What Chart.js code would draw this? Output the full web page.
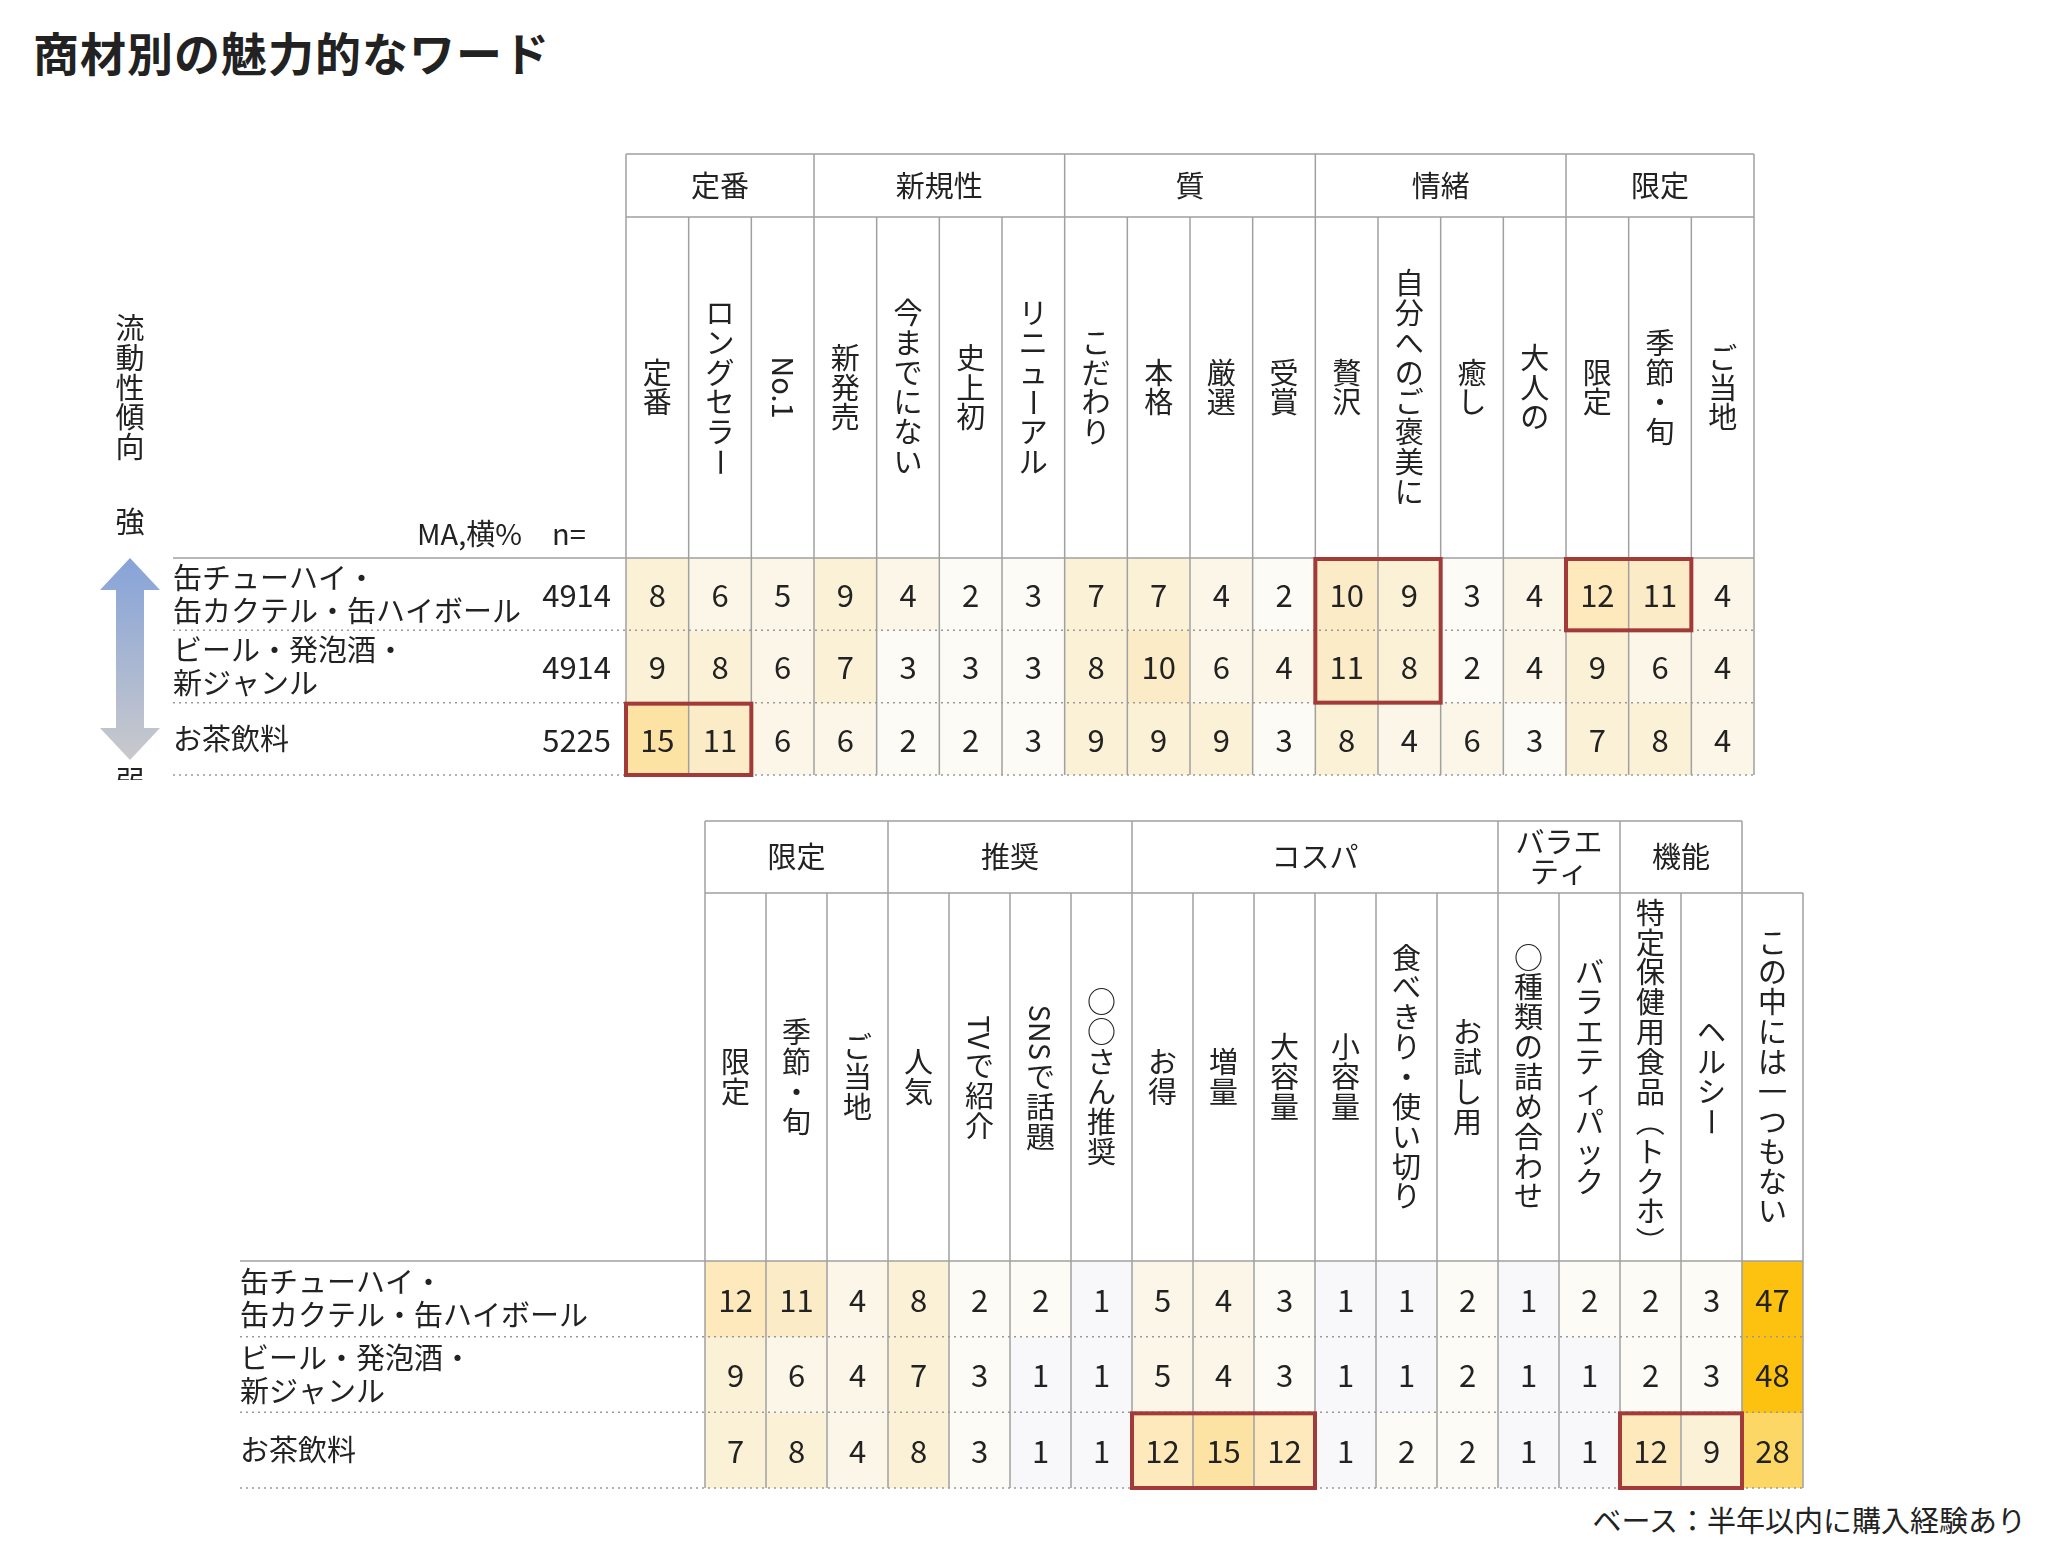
<!DOCTYPE html>
<html><head><meta charset="utf-8">
<script src="https://cdn.jsdelivr.net/npm/chart.js@4"></script>
<style>
body{margin:0;width:2048px;height:1549px;background:#fff;position:relative;overflow:hidden;font-family:"Noto Sans CJK JP",sans-serif;color:#222}
#title{position:absolute;left:33px;top:18px;font-size:46px;font-weight:bold;letter-spacing:1px}
#foot{position:absolute;right:22px;top:1498px;font-size:29px}
canvas{position:absolute}
</style></head><body>
<div id="title">商材別の魅力的なワード</div>
<div id="foot">ベース：半年以内に購入経験あり</div>
<canvas id="c1" style="left:0;top:140px;width:1760px;height:640px" width="1760" height="640"></canvas>
<canvas id="c2" style="left:0;top:800px;width:1810px;height:695px" width="1810" height="695"></canvas>
<script>
const rowLabels = [["缶チューハイ・","缶カクテル・缶ハイボール"],["ビール・発泡酒・","新ジャンル"],["お茶飲料"]];
const nValues = ["4914","4914","5225"];

const topCols = ["定番","ロングセラー","No.1","新発売","今までにない","史上初","リニューアル","こだわり","本格","厳選","受賞","贅沢","自分へのご褒美に","癒し","大人の","限定","季節・旬","ご当地"];
const topGroups = [["定番",3],["新規性",4],["質",4],["情緒",4],["限定",3]];
const topRow1 = [8,6,5,9,4,2,3,7,7,4,2,10,9,3,4,12,11,4];
const topRow2 = [9,8,6,7,3,3,3,8,10,6,4,11,8,2,4,9,6,4];
const topRow3 = [15,11,6,6,2,2,3,9,9,9,3,8,4,6,3,7,8,4];
const topBoxes = [[11,12,0,1],[15,16,0,0],[0,1,2,2]];

const botCols = ["限定","季節・旬","ご当地","人気","TVで紹介","SNSで話題","○○さん推奨","お得","増量","大容量","小容量","食べきり・使い切り","お試し用","○種類の詰め合わせ","バラエティパック","特定保健用食品（トクホ）","ヘルシー","この中には一つもない"];
const botGroups = [["限定",3],["推奨",4],["コスパ",6],["バラエ|ティ",2],["機能",2]];
const botRow1 = [12,11,4,8,2,2,1,5,4,3,1,1,2,1,2,2,3,47];
const botRow2 = [9,6,4,7,3,1,1,5,4,3,1,1,2,1,1,2,3,48];
const botRow3 = [7,8,4,8,3,1,1,12,15,12,1,2,2,1,1,12,9,28];
const botBoxes = [[7,9,2,2],[15,16,2,2]];

const FONT = '"Noto Sans CJK JP", sans-serif';
function cellColor(v){
  if(v>=40) return '#fdc20f';
  if(v>=20) return '#fdd766';
  if(v>=15) return '#fde3a3';
  if(v>=12) return '#fde9bb';
  if(v>=10) return '#fbebc6';
  if(v>=7) return '#fbf1d7';
  if(v>=4) return '#fbf6e8';
  if(v>=2) return '#fcfbf6';
  return '#f8f8fa';
}
function drawVertical(ctx, text, cx, cy, size){
  const tokens=[]; let m; const re=/[A-Za-z0-9.]+|./g;
  while((m=re.exec(text))) tokens.push(m[0]);
  ctx.font = size+'px '+FONT;
  const step=size*1.03;
  const lens=tokens.map(t=>/^[A-Za-z0-9.]+$/.test(t)?ctx.measureText(t).width+4:step);
  const total=lens.reduce((a,b)=>a+b,0);
  let y=cy-total/2;
  tokens.forEach((t,i)=>{
    const h=lens[i]; const mid=y+h/2;
    ctx.save(); ctx.translate(cx,mid);
    if(/^[A-Za-z0-9.]+$/.test(t)||/[ー（）]/.test(t)) ctx.rotate(Math.PI/2);
    ctx.textAlign='center'; ctx.textBaseline='middle';
    ctx.fillText(t,0,0); ctx.restore();
    y+=h;
  });
}
function makeChart(id, cols, groups, rows, boxes, opt){
  const datasets = rows.map((vals,r)=>({
    data: vals.map((v,i)=>({x:cols[i], y:[r,r+1], v:v})),
    backgroundColor: vals.map(cellColor),
    borderWidth:0, barPercentage:1, categoryPercentage:1, grouped:false
  }));
  const plugin = {id:'tbl'+id, afterDatasetsDraw(chart){
    const ctx=chart.ctx, xs=chart.scales.x, ys=chart.scales.y, ca=chart.chartArea;
    const colW=(ca.right-ca.left)/cols.length;
    const xL=i=>xs.getPixelForValue(i)-colW/2;
    const rowY=r=>ys.getPixelForValue(r);
    const gTop=opt.groupTop, gBot=opt.groupBot;
    ctx.save();
    ctx.strokeStyle='#a0a0a0'; ctx.lineWidth=1.5;
    // group row borders
    const gEnd = xL(groups.reduce((a,g)=>a+g[1],0));
    ctx.beginPath(); ctx.moveTo(ca.left,gTop); ctx.lineTo(gEnd,gTop);
    ctx.moveTo(ca.left,gBot); ctx.lineTo(ca.right,gBot); ctx.stroke();
    // vertical lines
    let starts=new Set([0]); let acc=0; groups.forEach(g=>{acc+=g[1]; starts.add(acc);});
    for(let i=0;i<=cols.length;i++){
      const x=i===cols.length?ca.right:xL(i);
      ctx.beginPath(); ctx.moveTo(x,(starts.has(i)&&i<=acc)?gTop:gBot); ctx.lineTo(x,ca.bottom); ctx.stroke();
    }
    // header bottom solid line
    ctx.beginPath(); ctx.moveTo(opt.labelX,ca.top); ctx.lineTo(ca.right,ca.top); ctx.stroke();
    // dotted row lines
    ctx.setLineDash([2,4]); ctx.strokeStyle='#999';
    for(let r=1;r<=rows.length;r++){ctx.beginPath();ctx.moveTo(opt.labelX,rowY(r));ctx.lineTo(ca.right,rowY(r));ctx.stroke();}
    ctx.setLineDash([]);
    ctx.fillStyle='#222';
    // group texts
    acc=0;
    groups.forEach(g=>{
      const cx=(xL(acc)+xL(acc+g[1]))/2; acc+=g[1];
      ctx.font='29px '+FONT; ctx.textAlign='center'; ctx.textBaseline='middle';
      const lines=g[0].split('|'); const lh=30;
      lines.forEach((l,k)=>ctx.fillText(l,cx,(gTop+gBot)/2+(k-(lines.length-1)/2)*lh));
    });
    // column headers
    cols.forEach((c,i)=>drawVertical(ctx,c,xs.getPixelForValue(i),(gBot+ca.top)/2,29));
    // values
    ctx.font='31px '+FONT; ctx.textAlign='center'; ctx.textBaseline='middle';
    rows.forEach((vals,r)=>vals.forEach((v,i)=>ctx.fillText(String(v),xs.getPixelForValue(i),(rowY(r)+rowY(r+1))/2+1)));
    // row labels
    ctx.font='29px '+FONT; ctx.textAlign='left';
    rowLabels.forEach((ls,r)=>{const cy=(rowY(r)+rowY(r+1))/2;
      ls.forEach((l,k)=>ctx.fillText(l,opt.labelX,cy+(k-(ls.length-1)/2)*33));});
    if(opt.n){
      ctx.font='31px '+FONT; ctx.textAlign='right';
      nValues.forEach((n,r)=>ctx.fillText(n,opt.nX,(rowY(r)+rowY(r+1))/2+1));
      ctx.font='29px '+FONT;
      ctx.fillText('MA,横%',522,ca.top-24); ctx.textAlign='left'; ctx.fillText('n=',552,ca.top-24);
      // side label
      drawVertical(ctx,'流動性傾向',130,(315+460)/2-140,29);
      ctx.font='29px '+FONT; ctx.textAlign='center';
      ctx.fillText('強',130,522-140); ctx.fillText('弱',130,781-140);
      const t=558-140,b=760-140,cx=130;
      const grd=ctx.createLinearGradient(0,t,0,b); grd.addColorStop(0,'#86a3d8'); grd.addColorStop(1,'#c9c9cc');
      ctx.fillStyle=grd; ctx.beginPath();
      ctx.moveTo(cx,t); ctx.lineTo(cx+30,t+32); ctx.lineTo(cx+14,t+32); ctx.lineTo(cx+14,b-32); ctx.lineTo(cx+30,b-32);
      ctx.lineTo(cx,b); ctx.lineTo(cx-30,b-32); ctx.lineTo(cx-14,b-32); ctx.lineTo(cx-14,t+32); ctx.lineTo(cx-30,t+32); ctx.closePath(); ctx.fill();
    }
    // red boxes
    ctx.strokeStyle='#a33a3a'; ctx.lineWidth=4;
    boxes.forEach(([c0,c1,r0,r1])=>ctx.strokeRect(xL(c0),rowY(r0)+1,xL(c1+1)-xL(c0),rowY(r1+1)-rowY(r0)-1));
    ctx.restore();
  }};
  return new Chart(document.getElementById(id),{
    type:'bar', data:{labels:cols, datasets},
    options:{responsive:false, devicePixelRatio:1, animation:false,
      layout:{padding:opt.pad},
      plugins:{legend:{display:false},tooltip:{enabled:false}},
      scales:{x:{display:false,offset:true},y:{display:false,min:0,max:3,reverse:true}}},
    plugins:[plugin]});
}
makeChart('c1',topCols,topGroups,[topRow1,topRow2,topRow3],topBoxes,
  {pad:{left:626,top:418,right:6,bottom:5},groupTop:154-140,groupBot:217-140,labelX:173,n:true,nX:611});
makeChart('c2',botCols,botGroups,[botRow1,botRow2,botRow3],botBoxes,
  {pad:{left:705,top:461,right:7,bottom:7},groupTop:821-800,groupBot:893-800,labelX:240,n:false});
</script></body></html>
